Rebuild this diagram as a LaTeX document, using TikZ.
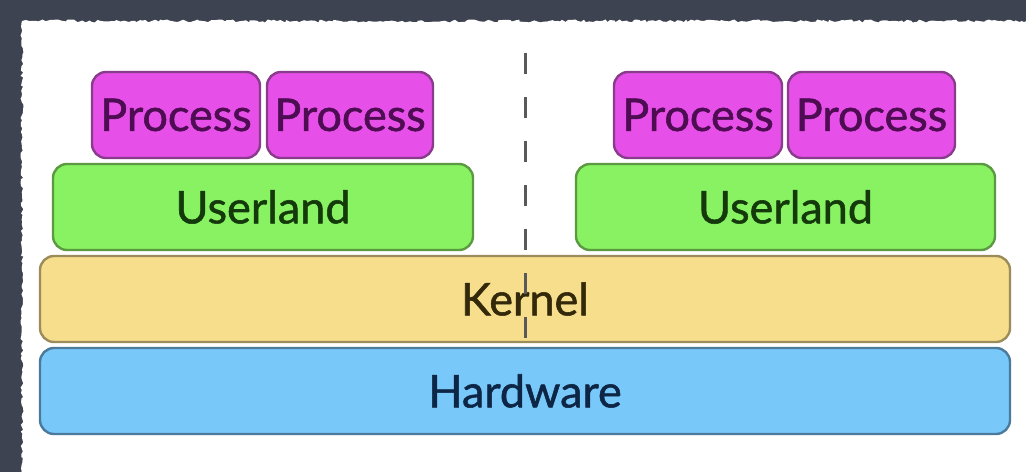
\documentclass[tikz,border=0pt]{standalone}
\usepackage{fontspec}
\setmainfont{Lato}
\newfontfamily\layerfont{Lato}[FakeBold=1.2]
\usetikzlibrary{decorations.pathmorphing}
\definecolor{slate}{HTML}{3E4351}
\definecolor{procfill}{HTML}{E650E8}
\definecolor{procline}{HTML}{8A3C8C}
\definecolor{proctext}{HTML}{4E0C52}
\definecolor{userfill}{HTML}{88F262}
\definecolor{userline}{HTML}{5C9A42}
\definecolor{usertext}{HTML}{143A0C}
\definecolor{kernfill}{HTML}{F6DE8C}
\definecolor{kernline}{HTML}{9C8C5C}
\definecolor{kerntext}{HTML}{33290A}
\definecolor{hwfill}{HTML}{78C8FA}
\definecolor{hwline}{HTML}{4A7A9C}
\definecolor{hwtext}{HTML}{0D2645}
\tikzset{
  layer/.style={rounded corners=14pt, line width=2.4pt, inner sep=0pt,
    minimum height=86pt, font=\layerfont\fontsize{45}{45}\selectfont},
  procbox/.style={layer, fill=procfill, draw=procline, text=proctext},
  userbox/.style={layer, fill=userfill, draw=userline, text=usertext},
  kernbox/.style={layer, fill=kernfill, draw=kernline, text=kerntext},
  hwbox/.style={layer, fill=hwfill, draw=hwline, text=hwtext},
  divider/.style={draw=black!65, line width=3pt, dash pattern=on 21pt off 23pt}
}
\begin{document}
\begin{tikzpicture}[x=1pt,y=-1pt]
  \useasboundingbox (0,0) rectangle (1026,472);
  % backdrop and paper sheet
  \fill[slate] (0,0) rectangle (1026,472);
  \fill[white, decorate, decoration={random steps, segment length=3pt, amplitude=1.5pt}]
    (1040,21) -- (22,21) -- (22,480) -- (1040,480) -- cycle;

  % hardware and kernel span the whole width
  \node[hwbox, minimum width=970pt] (hw) at (525,391) {Hardware};
  \node[kernbox, minimum width=970pt] (kern) at (525,299) {Kernel};

  % left side
  \node[userbox, minimum width=420pt] (userL) at (263,207) {Userland};
  \node[procbox, minimum width=168pt] (procA) at (176,115) {Process};
  \node[procbox, minimum width=166pt] (procB) at (350,115) {Process};

  % right side
  \node[userbox, minimum width=419pt] (userR) at (785.5,207) {Userland};
  \node[procbox, minimum width=168pt] (procC) at (698,115) {Process};
  \node[procbox, minimum width=167pt] (procD) at (871.5,115) {Process};

  % separation between the two sides
  \coordinate (divtop) at (525,53);
  \coordinate (divbot) at (525,340);
  \draw[divider] (divtop) -- (divbot);
\end{tikzpicture}
\end{document}
